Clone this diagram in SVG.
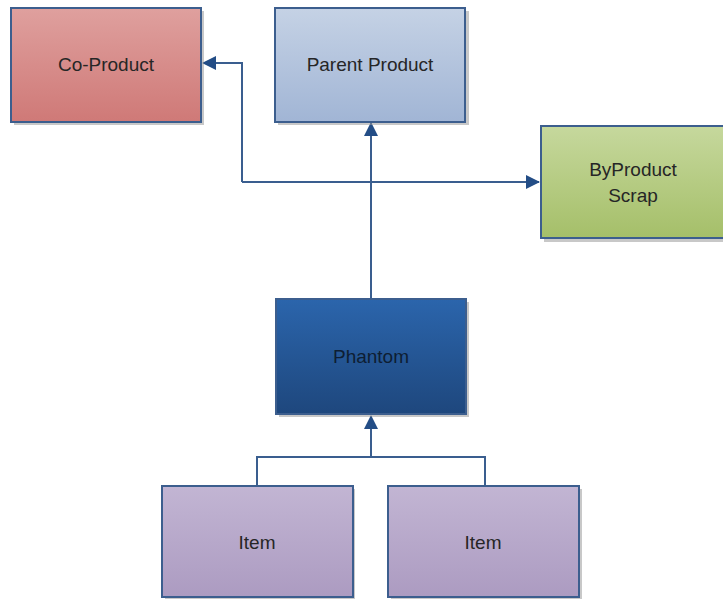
<svg xmlns="http://www.w3.org/2000/svg" width="723" height="599" viewBox="0 0 723 599">
<defs>
<linearGradient id="gRed" x1="0" y1="0" x2="0" y2="1"><stop offset="0" stop-color="#DFA09E"/><stop offset="1" stop-color="#CF7977"/></linearGradient>
<linearGradient id="gBlue" x1="0" y1="0" x2="0" y2="1"><stop offset="0" stop-color="#C5D2E5"/><stop offset="1" stop-color="#A1B5D5"/></linearGradient>
<linearGradient id="gGreen" x1="0" y1="0" x2="0" y2="1"><stop offset="0" stop-color="#C6D89D"/><stop offset="1" stop-color="#A5BF69"/></linearGradient>
<linearGradient id="gDark" x1="0" y1="0" x2="0" y2="1"><stop offset="0" stop-color="#2B65AC"/><stop offset="1" stop-color="#1E477D"/></linearGradient>
<linearGradient id="gPurple" x1="0" y1="0" x2="0" y2="1"><stop offset="0" stop-color="#C2B5D3"/><stop offset="1" stop-color="#AC9BC1"/></linearGradient>
<marker id="arr" viewBox="0 0 14 14" refX="13" refY="7" markerWidth="14" markerHeight="14" markerUnits="userSpaceOnUse" orient="auto">
<path d="M0,0 L14,7 L0,14 Z" fill="#234D86"/>
</marker>
</defs>
<style>
.box{stroke:#3C5E8E;stroke-width:2}
.sh{fill:#9a9a9a;opacity:0.55}
.lbl{font-family:"Liberation Sans",Arial,sans-serif;font-size:19px;fill:#262626;text-anchor:middle}
.conn{fill:none;stroke:#3A5E8F;stroke-width:2}
</style>
<g id="connectors">
<path class="conn" d="M371,299 L371,123" marker-end="url(#arr)"/>
<path class="conn" d="M242,182 L242,63 L203,63" marker-end="url(#arr)"/>
<path class="conn" d="M242,182 L539,182" marker-end="url(#arr)"/>
<path class="conn" d="M257,486 L257,457 L485,457 L485,486"/>
<path class="conn" d="M371,457 L371,416" marker-end="url(#arr)"/>
</g>
<g id="co-product">
<rect class="sh" x="14" y="11" width="190" height="114"/>
<rect class="box" x="11" y="8" width="190" height="114" fill="url(#gRed)"/>
<text class="lbl" x="106" y="71">Co-Product</text>
</g>
<g id="parent-product">
<rect class="sh" x="278" y="11" width="191" height="114"/>
<rect class="box" x="275" y="8" width="190" height="114" fill="url(#gBlue)"/>
<text class="lbl" x="370" y="71">Parent Product</text>
</g>
<g id="byproduct-scrap">
<rect class="sh" x="544" y="129" width="190" height="113"/>
<rect class="box" x="541" y="126" width="190" height="112" fill="url(#gGreen)"/>
<text class="lbl" x="633" y="176">ByProduct</text>
<text class="lbl" x="633" y="202">Scrap</text>
</g>
<g id="phantom">
<rect class="sh" x="279" y="302" width="190" height="115"/>
<rect class="box" x="276" y="299" width="190" height="115" fill="url(#gDark)"/>
<text class="lbl" x="371" y="363" style="fill:#0E1E33">Phantom</text>
</g>
<g id="item-1">
<rect class="sh" x="165" y="489" width="190" height="112"/>
<rect class="box" x="162" y="486" width="191" height="111" fill="url(#gPurple)"/>
<text class="lbl" x="257" y="549">Item</text>
</g>
<g id="item-2">
<rect class="sh" x="391" y="489" width="191" height="112"/>
<rect class="box" x="388" y="486" width="191" height="111" fill="url(#gPurple)"/>
<text class="lbl" x="483" y="549">Item</text>
</g>
</svg>
